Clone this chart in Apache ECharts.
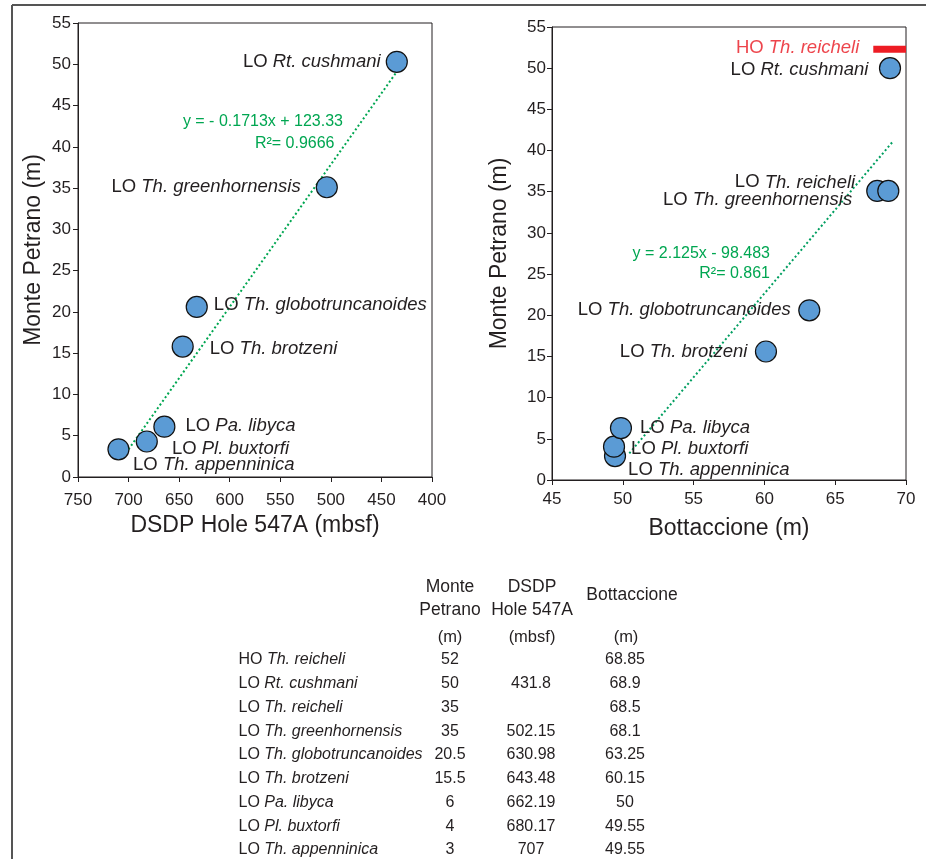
<!DOCTYPE html>
<html>
<head>
<meta charset="utf-8">
<script src="https://cdn.jsdelivr.net/npm/echarts@6/dist/echarts.min.js"></script>
<style>
html,body{margin:0;padding:0;background:#fff;}
#chart{width:926px;height:859px;}
</style>
</head>
<body>
<div id="chart"></div>
<script>
// ---------- DATA ----------
// Left panel: DSDP Hole 547A (mbsf) vs Monte Petrano (m)
const leftNames = ['Rt. cushmani','Th. greenhornensis','Th. globotruncanoides','Th. brotzeni','Pa. libyca','Pl. buxtorfi','Th. appenninica'];
const leftX = [434.8, 504, 632.6, 646.5, 664.6, 682, 710];
const leftY = [50.3, 35.1, 20.6, 15.8, 6.1, 4.3, 3.35];
const leftTrend = [[705.2, 2.46], [434.8, 49.1]];
const leftEq = 'y = - 0.1713x + 123.33';
const leftR2 = 'R\u00B2= 0.9666';

// Right panel: Bottaccione (m) vs Monte Petrano (m)
const rightNames = ['Th. appenninica','Pl. buxtorfi','Pa. libyca','Th. brotzeni','Th. globotruncanoides','Rt. cushmani','Th. reicheli','Th. greenhornensis'];
const rightX = [49.45, 49.38, 49.87, 60.11, 63.17, 68.87, 67.97, 68.75];
const rightY = [2.9, 4.05, 6.3, 15.6, 20.6, 50.0, 35.1, 35.1];
const rightTrend = [[50.46, 3.24], [69.06, 41.07]];
const rightEq = 'y = 2.125x - 98.483';
const rightR2 = 'R\u00B2= 0.861';
const hoName = 'Th. reicheli';
const hoBar = [[67.69, 52.3], [70, 52.3]];

// Table
const tablePrefix = ['HO','LO','LO','LO','LO','LO','LO','LO','LO'];
const tableSpecies = ['Th. reicheli','Rt. cushmani','Th. reicheli','Th. greenhornensis','Th. globotruncanoides','Th. brotzeni','Pa. libyca','Pl. buxtorfi','Th. appenninica'];
const tableMonte = ['52','50','35','35','20.5','15.5','6','4','3'];
const tableDSDP = ['','431.8','','502.15','630.98','643.48','662.19','680.17','707'];
const tableBott = ['68.85','68.9','68.5','68.1','63.25','60.15','50','49.55','49.55'];
const tableHeads = ['Monte\nPetrano', 'DSDP\nHole 547A', 'Bottaccione'];
const tableUnits = ['(m)', '(mbsf)', '(m)'];

// ---------- LAYOUT (label placement, not data) ----------
const leftLabelPos = [
  {position:'left', distance:5, offset:[0,0]},
  {position:'left', distance:15, offset:[0,0]},
  {position:'right', distance:6, offset:[0,-2]},
  {position:'right', distance:16, offset:[0,2]},
  {position:'right', distance:10, offset:[0,-1]},
  {position:'right', distance:14, offset:[0,7]},
  {position:'right', distance:3.5, offset:[0,16]}
];
const rightLabelPos = [
  {position:'right', distance:2, offset:[0,14]},
  {position:'right', distance:6, offset:[0,2]},
  {position:'right', distance:8, offset:[0,0]},
  {position:'left', distance:7.5, offset:[0,0]},
  {position:'left', distance:7.5, offset:[0,0]},
  {position:'left', distance:10.5, offset:[0,2]},
  {position:'left', distance:11, offset:[0,-8.5]},
  {position:'left', distance:25, offset:[0,9]}
];

const FONT = '"Liberation Sans", Arial, Helvetica, sans-serif';
const TXT = '#231f20';
const GREEN = '#00a651';
const BLUE = '#5b9bd5';
const RED = '#ed1c24';

const richLabel = {
  n: {fontFamily: FONT, fontSize: 18.5, color: TXT, fontStyle: 'normal'},
  i: {fontFamily: FONT, fontSize: 18.5, color: TXT, fontStyle: 'italic'}
};

function buildPoints(names, xs, ys, pos) {
  return names.map((nm, k) => ({
    name: nm,
    value: [xs[k], ys[k]],
    label: Object.assign({show: true}, pos[k])
  }));
}

function axisCommon() {
  return {
    type: 'value',
    splitLine: {show: false},
    axisLine: {show: true, onZero: false, lineStyle: {color: TXT, width: 1}},
    axisTick: {show: true, length: 5, lineStyle: {color: TXT, width: 1}},
    axisLabel: {fontFamily: FONT, fontSize: 17, color: TXT},
    nameLocation: 'middle',
    nameTextStyle: {fontFamily: FONT, fontSize: 23, color: TXT}
  };
}

const xLeft = Object.assign(axisCommon(), {gridIndex: 0, min: 400, max: 750, interval: 50, inverse: true, name: 'DSDP Hole 547A (mbsf)', nameGap: 36});
xLeft.axisLabel = Object.assign({}, xLeft.axisLabel, {margin: 15});
const xRight = Object.assign(axisCommon(), {gridIndex: 1, min: 45, max: 70, interval: 5, name: 'Bottaccione (m)', nameGap: 37});
xRight.axisLabel = Object.assign({}, xRight.axisLabel, {margin: 11});
const yLeft = Object.assign(axisCommon(), {gridIndex: 0, min: 0, max: 55, interval: 5, name: 'Monte Petrano (m)', nameGap: 33});
yLeft.axisLabel = Object.assign({}, yLeft.axisLabel, {margin: 7});
const yRight = Object.assign(axisCommon(), {gridIndex: 1, min: 0, max: 55, interval: 5, name: 'Monte Petrano (m)', nameGap: 41});
yRight.axisLabel = Object.assign({}, yRight.axisLabel, {margin: 6});

// ---------- graphics: frame, equations, table ----------
const graphics = [];
graphics.push({type: 'line', shape: {x1: 12, y1: 5, x2: 926, y2: 5}, style: {stroke: '#555', lineWidth: 2}, silent: true});
graphics.push({type: 'line', shape: {x1: 12, y1: 5, x2: 12, y2: 859}, style: {stroke: '#555', lineWidth: 2}, silent: true});

function txt(text, x, y, size, opts) {
  return {type: 'text', x: x, y: y, silent: true,
    style: Object.assign({text: text, fill: TXT, fontFamily: FONT, fontSize: size, fontStyle: 'normal',
      textAlign: 'center', textVerticalAlign: 'middle'}, opts || {})};
}
graphics.push(txt(leftEq, 343, 122, 16, {fill: GREEN, textAlign: 'right'}));
graphics.push(txt(leftR2, 334.5, 143.5, 16, {fill: GREEN, textAlign: 'right'}));
graphics.push(txt(rightEq, 770, 254, 16, {fill: GREEN, textAlign: 'right'}));
graphics.push(txt(rightR2, 770, 273.5, 16, {fill: GREEN, textAlign: 'right'}));

const colX = [450, 531, 625];
// headers
graphics.push(txt(tableHeads[0], colX[0], 598.5, 17.5, {lineHeight: 23.5}));
graphics.push(txt(tableHeads[1], 532, 598.5, 17.5, {lineHeight: 23.5}));
graphics.push(txt(tableHeads[2], 632, 595, 17.5));
const unitX = [450, 532, 626];
tableUnits.forEach((u, k) => graphics.push(txt(u, unitX[k], 637.5, 16.5)));

const rowY0 = 660, rowStep = 23.75, rowX = 238.5;
tableSpecies.forEach((sp, r) => {
  const y = rowY0 + r * rowStep;
  graphics.push({type: 'text', x: rowX, y: y, silent: true, style: {
    text: '{n|' + tablePrefix[r] + ' }{i|' + sp + '}',
    fontFamily: FONT, fontSize: 16, fill: TXT,
    textAlign: 'left', textVerticalAlign: 'middle',
    rich: {
      n: {fontFamily: FONT, fontSize: 16, fontStyle: 'normal', fill: TXT, verticalAlign: 'middle'},
      i: {fontFamily: FONT, fontSize: 16, fontStyle: 'italic', fill: TXT, verticalAlign: 'middle'}
    }
  }});
  [tableMonte[r], tableDSDP[r], tableBott[r]].forEach((v, c) => {
    if (v === '') return;
    graphics.push(txt(v, colX[c], y, 16));
  });
});

const labelFmt = p => '{n|LO }{i|' + p.name + '}';

const option = {
  animation: false,
  backgroundColor: '#fff',
  textStyle: {fontFamily: FONT},
  grid: [
    {left: 78, top: 23, width: 354, height: 454, show: true, borderColor: TXT, borderWidth: 1, backgroundColor: 'transparent'},
    {left: 552, top: 27, width: 354, height: 453, show: true, borderColor: TXT, borderWidth: 1, backgroundColor: 'transparent'}
  ],
  xAxis: [xLeft, xRight],
  yAxis: [yLeft, yRight],
  series: [
    {
      type: 'line', xAxisIndex: 0, yAxisIndex: 0, data: leftTrend, symbol: 'none', z: 1,
      lineStyle: {color: GREEN, width: 2, type: [2, 2.5]}
    },
    {
      type: 'scatter', xAxisIndex: 0, yAxisIndex: 0, z: 3,
      symbolSize: 21,
      itemStyle: {color: BLUE, borderColor: '#111', borderWidth: 1.2, opacity: 1},
      label: {show: true, formatter: labelFmt, rich: richLabel},
      data: buildPoints(leftNames, leftX, leftY, leftLabelPos)
    },
    {
      type: 'line', xAxisIndex: 1, yAxisIndex: 1, data: rightTrend, symbol: 'none', z: 1,
      lineStyle: {color: '#009e60', width: 2, type: [2, 2.5]}
    },
    {
      type: 'line', xAxisIndex: 1, yAxisIndex: 1, data: hoBar, symbol: 'none', z: 2,
      lineStyle: {color: RED, width: 7, cap: 'butt'}
    },
    {
      type: 'scatter', xAxisIndex: 1, yAxisIndex: 1, z: 2,
      symbolSize: 1, itemStyle: {color: 'rgba(0,0,0,0)'},
      data: [{name: hoName, value: hoBar[0]}],
      label: {show: true, position: 'left', distance: 13.5, offset: [0, -1],
        formatter: p => '{n|HO }{i|' + p.name + '}',
        rich: {
          n: {fontFamily: FONT, fontSize: 18.5, color: '#e8161f', fontStyle: 'normal'},
          i: {fontFamily: FONT, fontSize: 18.5, color: '#e8161f', fontStyle: 'italic'}
        }
      }
    },
    {
      type: 'scatter', xAxisIndex: 1, yAxisIndex: 1, z: 3,
      symbolSize: 21,
      itemStyle: {color: BLUE, borderColor: '#111', borderWidth: 1.2, opacity: 1},
      label: {show: true, formatter: labelFmt, rich: richLabel},
      data: buildPoints(rightNames, rightX, rightY, rightLabelPos)
    }
  ],
  graphic: graphics
};

const chart = echarts.init(document.getElementById('chart'), null, {renderer: 'canvas'});
chart.setOption(option);
</script>
</body>
</html>
